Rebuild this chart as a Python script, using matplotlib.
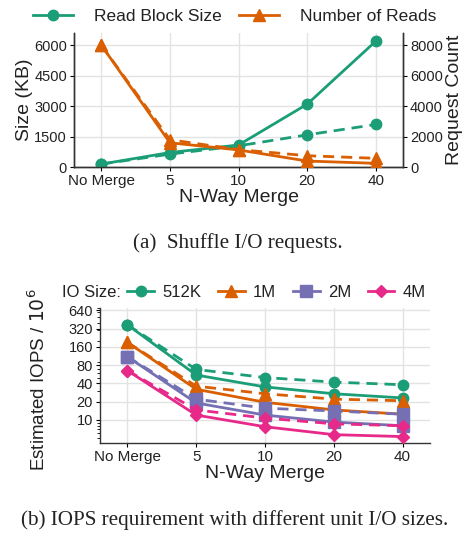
import matplotlib
matplotlib.use("Agg")
import matplotlib.pyplot as plt
from matplotlib.lines import Line2D
import numpy as np

plt.rcParams['font.family'] = ['Liberation Sans', 'DejaVu Sans']

categories = ["No Merge", "5", "10", "20", "40"]

# Top chart: read block size (KB) and number of reads
block_size_solid = [150, 720, 1090, 3100, 6200]
block_size_dashed = [150, 640, 1050, 1590, 2100]
num_reads_solid = [8000, 1600, 1130, 400, 250]
num_reads_dashed = [8000, 1800, 1150, 750, 580]

# Bottom chart: estimated IOPS / 10^6
io_sizes = ["512K", "1M", "2M", "4M"]
iops_solid = {
    "512K": [370, 55, 35, 27, 23],
    "1M": [190, 32, 19.5, 14.6, 12.4],
    "2M": [110, 19, 12, 9.2, 8.0],
    "4M": [65, 12, 7.7, 5.7, 5.3],
}
iops_dashed = {
    "512K": [370, 68, 50, 42, 38],
    "1M": [190, 36, 27, 22, 20.7],
    "2M": [110, 22, 15.6, 14, 12.4],
    "4M": [65, 14.6, 10.7, 8.6, 8.0],
}

colors = {"512K": "#1b9e77", "1M": "#d95f02", "2M": "#7570b3", "4M": "#e7298a"}
markers = {"512K": "o", "1M": "^", "2M": "s", "4M": "D"}
msizes = {"512K": 7.5, "1M": 8, "2M": 8, "4M": 6.5}
green, orange = "#1b9e77", "#d95f02"

fig = plt.figure(figsize=(4.65, 5.34), dpi=100)
x = np.arange(len(categories))
grid_kw = dict(color="#e3e3e3", linewidth=1.0)
xtick_fs = 11
ytick_fs = 10.5
label_fs = 14
lw = 2.0
dash = (4, 2.5)
txt_col = "#222222"

# ---------- Top chart ----------
ax1 = fig.add_axes([0.159, 0.687, 0.708, 0.251])
ax2 = ax1.twinx()
ax1.plot(x, block_size_solid, color=green, marker="o", ms=7.5, lw=lw, zorder=3)
ax1.plot(x, block_size_dashed, color=green, marker="o", ms=7.5, lw=lw, ls=(0, dash), zorder=3)
ax2.plot(x, num_reads_solid, color=orange, marker="^", ms=8, lw=lw, zorder=3)
ax2.plot(x, num_reads_dashed, color=orange, marker="^", ms=8, lw=lw, ls=(0, dash), zorder=3)
ax1.set_xlim(-0.4, 4.4)
ax1.set_ylim(0, 6600)
ax2.set_ylim(0, 8800)
ax1.set_yticks([0, 1500, 3000, 4500, 6000])
ax2.set_yticks([0, 2000, 4000, 6000, 8000])
ax1.set_xticks(x)
ax1.set_xticklabels(categories)
ax1.grid(True, **grid_kw)
ax1.set_axisbelow(True)
ax1.set_ylabel("Size (KB)", fontsize=label_fs, labelpad=1, color=txt_col)
ax2.set_ylabel("Request Count", fontsize=label_fs, labelpad=2, color=txt_col)
ax1.set_xlabel("N-Way Merge", fontsize=label_fs, labelpad=1, color=txt_col)
for a in (ax1, ax2):
    a.tick_params(axis="x", labelsize=xtick_fs, length=3, width=0.8, pad=2, labelcolor=txt_col)
    a.tick_params(axis="y", labelsize=ytick_fs, length=3, width=0.8, pad=2, labelcolor=txt_col)
    a.spines["top"].set_visible(False)
    for s in a.spines.values():
        s.set_linewidth(1.0)
        s.set_color("#333333")
h1 = Line2D([], [], color=green, marker="o", ms=7.5, lw=lw)
h2 = Line2D([], [], color=orange, marker="^", ms=8, lw=lw)
fig.legend([h1, h2], ["Read Block Size", "Number of Reads"], loc="center",
           bbox_to_anchor=(0.505, 0.969), ncol=2, frameon=False, fontsize=12.5,
           handlelength=2.3, columnspacing=1.0, handletextpad=1.2, labelcolor=txt_col)

fig.text(0.511, 0.545, "(a)  Shuffle I/O requests.", ha="center", va="center",
         fontsize=15.2, family=["Liberation Serif", "DejaVu Serif"], color=txt_col)

# ---------- Bottom chart ----------
ax3 = fig.add_axes([0.215, 0.171, 0.710, 0.252])
for k in io_sizes:
    ax3.plot(x, iops_solid[k], color=colors[k], marker=markers[k], ms=msizes[k], lw=lw, zorder=3)
    ax3.plot(x, iops_dashed[k], color=colors[k], marker=markers[k], ms=msizes[k], lw=lw,
             ls=(0, dash), zorder=3)
ax3.set_yscale("log", base=2)
ax3.set_ylim(4.2, 700)
yt = [10, 20, 40, 80, 160, 320, 640]
ax3.set_yticks(yt)
ax3.set_yticklabels([str(v) for v in yt])
ax3.yaxis.set_minor_locator(matplotlib.ticker.LogLocator(base=10, subs=np.arange(2, 10)))
ax3.yaxis.set_minor_formatter(matplotlib.ticker.NullFormatter())
ax3.set_xlim(-0.4, 4.4)
ax3.set_xticks(x)
ax3.set_xticklabels(categories)
ax3.grid(True, which="major", **grid_kw)
ax3.set_axisbelow(True)
ax3.tick_params(axis="x", labelsize=xtick_fs, length=3, width=0.8, pad=2, labelcolor=txt_col)
ax3.tick_params(axis="y", labelsize=ytick_fs, length=3, width=0.8, pad=2, labelcolor=txt_col)
ax3.tick_params(which="minor", length=2, width=0.6)
ax3.spines["top"].set_visible(False)
ax3.spines["right"].set_visible(False)
for s in ax3.spines.values():
    s.set_linewidth(1.0)
    s.set_color("#333333")
ax3.set_xlabel("N-Way Merge", fontsize=label_fs, labelpad=1, color=txt_col)
ax3.set_ylabel("Estimated IOPS / $10^6$", fontsize=13.5, color=txt_col)
ax3.yaxis.set_label_coords(-0.155, 0.47)

handles = [Line2D([], [], color=colors[k], marker=markers[k], ms=msizes[k], lw=lw) for k in io_sizes]
fig.text(0.133, 0.453, "IO Size:", ha="left", va="center", fontsize=12, color=txt_col)
fig.legend(handles, io_sizes, loc="center", bbox_to_anchor=(0.595, 0.453), ncol=4,
           frameon=False, fontsize=12, handlelength=1.6, columnspacing=1.0,
           handletextpad=0.5, labelcolor=txt_col)

fig.text(0.505, 0.027, "(b) IOPS requirement with different unit I/O sizes.", ha="center",
         va="center", fontsize=15.2, family=["Liberation Serif", "DejaVu Serif"], color=txt_col)

fig.savefig("out.png", dpi=100)
